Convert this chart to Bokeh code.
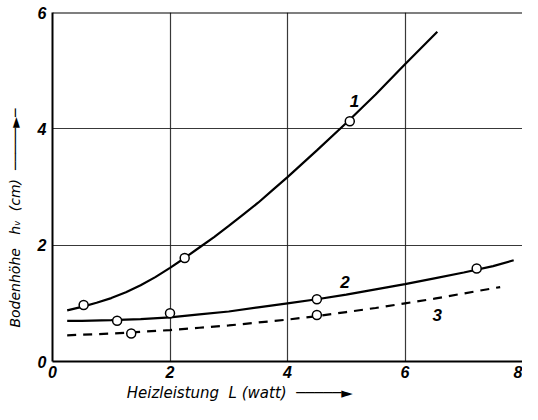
from bokeh.plotting import figure
from bokeh.models import FixedTicker, Range1d, Label, Span
from bokeh.embed import file_html
from bokeh.resources import INLINE

# ---- data ----
x_ticks = [0, 2, 4, 6, 8]
y_ticks = [0, 2, 4, 6]
grid_ticks = [2, 4, 6]

curve1_x = [0.25, 0.5, 0.75, 1.0, 1.25, 1.5, 1.75, 2.0, 2.25, 2.5, 2.75, 3.0,
            3.25, 3.5, 3.75, 4.0, 4.5, 5.0, 5.5, 6.0, 6.55]
curve1_y = [0.88, 0.94, 1.01, 1.09, 1.19, 1.31, 1.45, 1.61, 1.78, 1.96, 2.14, 2.33,
            2.53, 2.73, 2.95, 3.17, 3.63, 4.10, 4.59, 5.11, 5.67]
points1_x = [0.53, 2.25, 5.06]
points1_y = [0.97, 1.78, 4.13]

curve2_x = [0.25, 0.5, 1.0, 1.5, 2.0, 2.5, 3.0, 3.5, 4.0, 4.5, 5.0, 5.5, 6.0,
            6.5, 7.0, 7.5, 7.85]
curve2_y = [0.70, 0.70, 0.71, 0.73, 0.76, 0.81, 0.86, 0.93, 1.00, 1.07, 1.15, 1.24,
            1.33, 1.43, 1.53, 1.64, 1.74]
points2_x = [1.1, 2.0, 4.5, 7.22]
points2_y = [0.70, 0.83, 1.07, 1.60]

curve3_x = [0.25, 1.0, 1.5, 2.0, 2.5, 3.0, 3.5, 4.0, 4.5, 5.0, 5.5, 6.0, 6.5, 7.0, 7.62]
curve3_y = [0.45, 0.48, 0.51, 0.54, 0.58, 0.62, 0.67, 0.72, 0.78, 0.85, 0.92, 1.00,
            1.08, 1.17, 1.28]
points3_x = [1.34, 4.5]
points3_y = [0.48, 0.80]

curve_labels = ["1", "2", "3"]
label_x = [5.14, 4.98, 6.55]
label_y = [4.47, 1.37, 0.80]

NB = "\u00a0"
ARROW = "\u2500\u2500\u2500\u2500\u2500\u25ba"
x_title = "Heizleistung" + NB * 2 + "L" + NB + "(watt)" + NB * 2 + ARROW + NB * 20
y_title = "Bodenh\u00f6he" + NB * 3 + "h\u1d65" + NB * 2 + "(cm)" + NB * 2 + ARROW + "\u2500" + NB * 14

FONT = "Liberation Sans"
LFONT = "DejaVu Sans"

p = figure(width=522, height=404, output_backend="svg", toolbar_location=None,
           x_range=Range1d(0, 8), y_range=Range1d(0, 6),
           min_border_left=52, min_border_right=0, min_border_top=12,
           min_border_bottom=38)
p.background_fill_color = "white"
p.border_fill_color = "white"
p.outline_line_color = None

for ax in (p.xaxis[0], p.yaxis[0]):
    ax.axis_line_color = "black"
    ax.axis_line_width = 2
    ax.major_tick_in = 0
    ax.major_tick_out = 0
    ax.minor_tick_line_color = None
    ax.major_label_text_font = FONT
    ax.major_label_text_font_style = "bold italic"
    ax.major_label_text_font_size = "16px"
    ax.major_label_text_color = "black"
    ax.axis_label_text_font = LFONT
    ax.axis_label_text_font_style = "italic"
    ax.axis_label_text_color = "black"

p.xaxis[0].axis_label_text_font_size = "15px"
p.yaxis[0].axis_label_text_font_size = "14px"
p.xaxis[0].ticker = FixedTicker(ticks=x_ticks)
p.yaxis[0].ticker = FixedTicker(ticks=y_ticks)
p.xaxis[0].major_label_standoff = 4
p.yaxis[0].major_label_standoff = 6
p.xaxis[0].axis_label = x_title
p.yaxis[0].axis_label = y_title
p.xaxis[0].axis_label_standoff = 3
p.yaxis[0].axis_label_standoff = 12

p.xgrid.ticker = FixedTicker(ticks=grid_ticks)
p.ygrid.ticker = FixedTicker(ticks=grid_ticks)
for g in (p.xgrid[0], p.ygrid[0]):
    g.grid_line_color = "#222222"
    g.grid_line_width = 1.2
    g.grid_line_alpha = 0.9

p.add_layout(Span(location=y_ticks[-1], dimension="width", line_color="black",
                  line_width=2))

p.line(curve1_x, curve1_y, line_color="black", line_width=2.2)
p.line(curve2_x, curve2_y, line_color="black", line_width=2.2)
p.line(curve3_x, curve3_y, line_color="black", line_width=2.2, line_dash="9 7")

for xs, ys in ((points1_x, points1_y), (points2_x, points2_y), (points3_x, points3_y)):
    p.scatter(xs, ys, marker="circle", size=9, fill_color="white",
              line_color="black", line_width=1.5)

for t, lx, ly in zip(curve_labels, label_x, label_y):
    p.add_layout(Label(x=lx, y=ly, text=t, text_font=FONT,
                       text_font_style="bold italic", text_font_size="17px",
                       text_color="black", text_align="center",
                       text_baseline="middle"))

open("out.html", "w").write(file_html(p, INLINE))
